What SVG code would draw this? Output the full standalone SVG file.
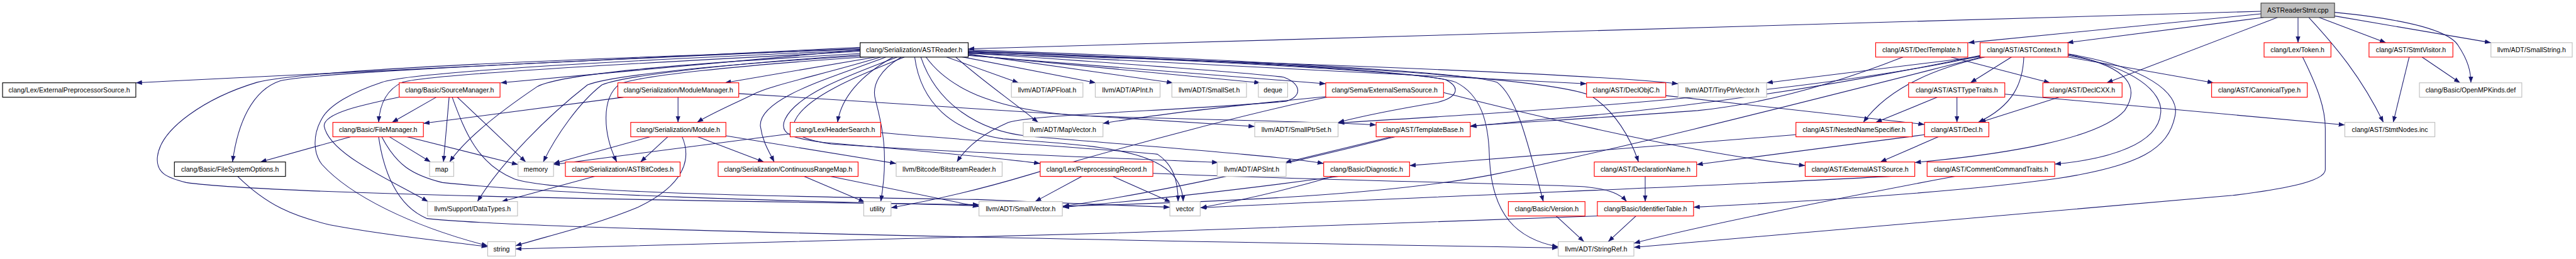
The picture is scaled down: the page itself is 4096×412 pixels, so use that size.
<svg xmlns="http://www.w3.org/2000/svg" width="4096" height="412" viewBox="0 0 4096 412">
<style>
.e{fill:none;stroke:#191970;stroke-width:1.3;marker-end:url(#a)}
.n rect{fill:#fff;stroke-width:1.4}
.r rect{stroke:#ff0000}
.g rect{stroke:#bfbfbf}
.b rect{stroke:#000}
.root rect{fill:#bfbfbf;stroke:#404040}
text{font-family:"Liberation Sans",Arial,sans-serif;font-size:13px;text-anchor:middle;fill:#000}
</style>
<defs>
<marker id="a" markerWidth="12" markerHeight="9" refX="12" refY="4.5" orient="auto" markerUnits="userSpaceOnUse"><path d="M0,0 L12,4.5 L0,9 z" fill="#191970"/></marker>
</defs>
<rect x="0" y="0" width="4096" height="412" fill="#fff"/>
<g transform="scale(0.818)">
<g id="edges">
<path class="e" d="M4395,22 L1882,95"/>
<path class="e" d="M4395,27 L3826,83"/>
<path class="e" d="M4400,34 L4018,83"/>
<path class="e" d="M4427,34 L4095,161"/>
<path class="e" d="M4467,34 L4467,83"/>
<path class="e" d="M4508,34 L4638,83"/>
<path class="e" d="M4488,34 C4540,90 4590,150 4633,238"/>
<path class="e" d="M4538,24 C4680,38 4760,60 4778,88 C4798,118 4803,140 4803,161"/>
<path class="e" d="M4538,31 L4842,83"/>
<path class="e" d="M1672,92 L264,161"/>
<path class="e" d="M1672,94 C1100,120 620,140 545,157 C490,175 462,240 452,315"/>
<path class="e" d="M1672,97 L973,161"/>
<path class="e" d="M1672,100 C1200,125 830,145 782,160 C750,175 738,205 736,238"/>
<path class="e" d="M1676,104 C1300,125 1090,145 1045,168 C990,205 910,262 874,315"/>
<path class="e" d="M1682,106 C1400,125 1210,148 1170,165 C1125,200 1080,265 1056,315"/>
<path class="e" d="M1688,108 C1350,128 1180,150 1142,165 C1065,225 975,315 928,392"/>
<path class="e" d="M1694,110 C1420,128 1245,148 1205,163 C1168,190 1172,260 1199,315"/>
<path class="e" d="M1702,111 L1409,161"/>
<path class="e" d="M1712,111 C1600,145 1500,165 1465,183 C1420,205 1380,222 1355,238"/>
<path class="e" d="M1722,111 C1620,150 1475,190 1478,245 C1482,275 1495,295 1505,315"/>
<path class="e" d="M1736,111 C1685,140 1637,180 1628,238"/>
<path class="e" d="M1752,111 C1712,135 1693,165 1702,195 C1715,245 1728,300 1712,392"/>
<path class="e" d="M1744,111 C1640,150 1548,185 1526,232 C1512,262 1545,270 1600,277 C1750,290 1950,308 2022,318"/>
<path class="e" d="M1758,111 C1660,150 1565,190 1545,235 C1535,262 1565,272 1615,280 C1900,300 2200,308 2368,316"/>
<path class="e" d="M1672,96 C1100,115 600,135 500,160 C400,190 312,250 306,305 C303,335 322,345 362,355 C500,375 1100,388 1903,398"/>
<path class="e" d="M1672,98 C1200,118 800,140 742,160 C682,180 640,205 626,230 C606,265 610,300 626,320 C680,380 800,440 948,478"/>
<path class="e" d="M1882,103 C2100,118 2400,138 2495,150 C2530,162 2532,188 2500,197 C2300,215 2010,222 1960,238 C1905,262 1876,290 1860,315"/>
<path class="e" d="M1840,111 L1980,161"/>
<path class="e" d="M1862,109 L2130,161"/>
<path class="e" d="M1882,105 L2280,161"/>
<path class="e" d="M1882,107 L2450,161"/>
<path class="e" d="M1858,111 C1900,150 1965,195 2018,238"/>
<path class="e" d="M1882,100 C2300,115 2750,140 2810,155 C2840,170 2835,190 2790,200 C2700,215 2640,228 2601,238"/>
<path class="e" d="M1778,111 C1790,200 1850,255 1950,270 C2150,285 2295,290 2300,392"/>
<path class="e" d="M1800,111 C1850,180 1950,215 2100,225 C2400,235 2600,237 2675,243"/>
<path class="e" d="M1790,111 C1820,200 1900,255 2000,265 C2300,290 2500,305 2573,318"/>
<path class="e" d="M1882,97 C2400,115 2850,140 2910,160 C2950,190 2970,280 3000,392"/>
<path class="e" d="M1882,99 C2400,118 2780,140 2830,160 C2880,185 2893,240 2895,300 C2898,420 2950,465 3029,480"/>
<path class="e" d="M1882,108 L2577,163"/>
<path class="e" d="M1882,102 L3084,163"/>
<path class="e" d="M1882,104 C2600,125 3100,145 3262,163"/>
<path class="e" d="M1882,101 C2500,120 3000,150 3090,185 C3140,215 3170,270 3185,315"/>
<path class="e" d="M848,189 L762,238"/>
<path class="e" d="M873,189 L862,315"/>
<path class="e" d="M889,189 L1022,315"/>
<path class="e" d="M776,189 C700,205 630,220 630,245 C640,300 760,350 832,392"/>
<path class="e" d="M879,189 C905,260 930,320 1000,348 C1080,375 1500,382 1900,388 L2274,403"/>
<path class="e" d="M682,266 L506,315"/>
<path class="e" d="M757,266 L837,315"/>
<path class="e" d="M791,266 L1007,320"/>
<path class="e" d="M736,266 C745,330 770,400 830,425 C1000,445 2000,465 3029,482"/>
<path class="e" d="M742,266 C770,320 800,340 860,355 C1100,380 1500,390 1903,400"/>
<path class="e" d="M1212,189 L823,240"/>
<path class="e" d="M1318,189 L1318,238"/>
<path class="e" d="M1436,182 L2439,246"/>
<path class="e" d="M1264,266 L1076,318"/>
<path class="e" d="M1298,266 L1245,315"/>
<path class="e" d="M1356,266 L1485,315"/>
<path class="e" d="M1411,264 L1742,318"/>
<path class="e" d="M1326,266 C1345,310 1330,360 1240,403 C1150,440 1060,460 1002,478"/>
<path class="e" d="M1536,260 L1076,320"/>
<path class="e" d="M1712,258 C1900,275 2150,290 2250,300 C2280,320 2290,350 2290,392"/>
<path class="e" d="M1156,343 L975,392"/>
<path class="e" d="M1563,343 L1681,393"/>
<path class="e" d="M1614,343 L1903,402"/>
<path class="e" d="M2103,343 L2012,392"/>
<path class="e" d="M2163,343 L2276,393"/>
<path class="e" d="M2241,337 C2600,352 3000,358 3080,363 C3130,368 3150,378 3162,392"/>
<path class="e" d="M2577,188 C2400,205 2250,222 2144,240"/>
<path class="e" d="M2580,189 C2450,215 2200,280 2000,340 C1900,370 1800,392 1732,404"/>
<path class="e" d="M2806,180 C3000,230 3300,300 3509,322"/>
<path class="e" d="M2705,266 L2498,316"/>
<path class="e" d="M2712,266 C2500,320 2250,375 2066,401"/>
<path class="e" d="M3491,262 L2740,322"/>
<path class="e" d="M2592,343 C2500,370 2400,392 2334,404"/>
<path class="e" d="M2602,343 C2400,370 2200,392 2066,403"/>
<path class="e" d="M3025,420 L3079,470"/>
<path class="e" d="M3180,420 L3126,470"/>
<path class="e" d="M3107,420 C2500,445 1500,475 1002,484"/>
<path class="e" d="M3198,343 L3198,392"/>
<path class="e" d="M3238,186 L3741,242"/>
<path class="e" d="M3792,111 L3985,161"/>
<path class="e" d="M3699,111 C3600,150 3450,200 3300,215 C3100,230 2950,238 2858,245"/>
<path class="e" d="M3910,111 L3830,161"/>
<path class="e" d="M3934,111 C3932,160 3915,205 3845,238"/>
<path class="e" d="M4020,106 C4140,130 4160,170 4130,215 C4080,270 3900,300 3722,316"/>
<path class="e" d="M4020,108 C4150,130 4205,180 4200,220 C4195,280 4100,310 3994,319"/>
<path class="e" d="M4020,105 C4170,130 4238,180 4228,225 C4215,290 4160,322 4000,347 C3800,375 3500,392 3292,403"/>
<path class="e" d="M4020,111 L4303,161"/>
<path class="e" d="M3849,110 L3434,161"/>
<path class="e" d="M3858,111 C3730,140 3660,185 3622,238"/>
<path class="e" d="M3849,108 C3600,160 3300,210 3000,232 C2950,237 2900,241 2858,246"/>
<path class="e" d="M3849,109 C3500,185 3000,215 2601,239"/>
<path class="e" d="M3852,111 C3500,200 3150,290 2900,340 C2700,378 2400,392 2066,401"/>
<path class="e" d="M3766,189 L3646,238"/>
<path class="e" d="M3804,189 L3804,238"/>
<path class="e" d="M3897,183 L4558,243"/>
<path class="e" d="M3741,262 L3298,320"/>
<path class="e" d="M3768,266 L3655,315"/>
<path class="e" d="M4003,189 L3848,238"/>
<path class="e" d="M3800,343 C3600,380 3300,440 3176,473"/>
<path class="e" d="M3722,340 C3400,360 2700,385 2333,404"/>
<path class="e" d="M4476,111 C4505,170 4520,210 4520,250 L4520,330 C4520,355 4420,370 4340,380 L3176,481"/>
<path class="e" d="M4683,111 L4652,238"/>
<path class="e" d="M4708,111 L4782,161"/>
<path class="e" d="M462,343 C520,400 570,420 640,437 C760,460 880,470 948,480"/>
</g>
<g id="n1" class="n root"><rect x="4395" y="6" width="143" height="28"/><text x="4466.5" y="25">ASTReaderStmt.cpp</text></g>
<g id="n2" class="n b"><rect x="1672" y="83" width="210" height="28"/><text x="1777" y="102">clang/Serialization/ASTReader.h</text></g>
<g id="n3" class="n r"><rect x="3646" y="83" width="179" height="28"/><text x="3735.5" y="102">clang/AST/DeclTemplate.h</text></g>
<g id="n4" class="n r"><rect x="3849" y="83" width="171" height="28"/><text x="3934.5" y="102">clang/AST/ASTContext.h</text></g>
<g id="n5" class="n r"><rect x="4401" y="83" width="130" height="28"/><text x="4466" y="102">clang/Lex/Token.h</text></g>
<g id="n6" class="n r"><rect x="4605" y="83" width="163" height="28"/><text x="4686.5" y="102">clang/AST/StmtVisitor.h</text></g>
<g id="n7" class="n g"><rect x="4842" y="83" width="158" height="28"/><text x="4921" y="102">llvm/ADT/SmallString.h</text></g>
<g id="n8" class="n b"><rect x="5" y="161" width="259" height="28"/><text x="134.5" y="180">clang/Lex/ExternalPreprocessorSource.h</text></g>
<g id="n9" class="n r"><rect x="776" y="161" width="196" height="28"/><text x="874" y="180">clang/Basic/SourceManager.h</text></g>
<g id="n10" class="n r"><rect x="1201" y="161" width="235" height="28"/><text x="1318.5" y="180">clang/Serialization/ModuleManager.h</text></g>
<g id="n11" class="n g"><rect x="1966" y="161" width="139" height="28"/><text x="2035.5" y="180">llvm/ADT/APFloat.h</text></g>
<g id="n12" class="n g"><rect x="2129" y="161" width="126" height="28"/><text x="2192" y="180">llvm/ADT/APInt.h</text></g>
<g id="n13" class="n g"><rect x="2278" y="161" width="145" height="28"/><text x="2350.5" y="180">llvm/ADT/SmallSet.h</text></g>
<g id="n14" class="n g"><rect x="2446" y="161" width="57" height="28"/><text x="2474.5" y="180">deque</text></g>
<g id="n15" class="n r"><rect x="2577" y="161" width="229" height="28"/><text x="2691.5" y="180">clang/Sema/ExternalSemaSource.h</text></g>
<g id="n16" class="n r"><rect x="3084" y="161" width="154" height="28"/><text x="3161" y="180">clang/AST/DeclObjC.h</text></g>
<g id="n17" class="n g"><rect x="3262" y="161" width="172" height="28"/><text x="3348" y="180">llvm/ADT/TinyPtrVector.h</text></g>
<g id="n18" class="n r"><rect x="3710" y="161" width="187" height="28"/><text x="3803.5" y="180">clang/AST/ASTTypeTraits.h</text></g>
<g id="n19" class="n r"><rect x="3971" y="161" width="154" height="28"/><text x="4048" y="180">clang/AST/DeclCXX.h</text></g>
<g id="n20" class="n r"><rect x="4299" y="161" width="186" height="28"/><text x="4392" y="180">clang/AST/CanonicalType.h</text></g>
<g id="n21" class="n g"><rect x="4703" y="161" width="199" height="28"/><text x="4802.5" y="180">clang/Basic/OpenMPKinds.def</text></g>
<g id="n22" class="n r"><rect x="647" y="238" width="176" height="28"/><text x="735" y="257">clang/Basic/FileManager.h</text></g>
<g id="n23" class="n r"><rect x="1226" y="238" width="185" height="28"/><text x="1318.5" y="257">clang/Serialization/Module.h</text></g>
<g id="n24" class="n r"><rect x="1536" y="238" width="176" height="28"/><text x="1624" y="257">clang/Lex/HeaderSearch.h</text></g>
<g id="n25" class="n g"><rect x="1989" y="238" width="155" height="28"/><text x="2066.5" y="257">llvm/ADT/MapVector.h</text></g>
<g id="n26" class="n g"><rect x="2439" y="238" width="162" height="28"/><text x="2520" y="257">llvm/ADT/SmallPtrSet.h</text></g>
<g id="n27" class="n r"><rect x="2675" y="238" width="183" height="28"/><text x="2766.5" y="257">clang/AST/TemplateBase.h</text></g>
<g id="n28" class="n r"><rect x="3491" y="238" width="226" height="28"/><text x="3604" y="257">clang/AST/NestedNameSpecifier.h</text></g>
<g id="n29" class="n r"><rect x="3741" y="238" width="125" height="28"/><text x="3803.5" y="257">clang/AST/Decl.h</text></g>
<g id="n30" class="n g"><rect x="4558" y="238" width="175" height="28"/><text x="4645.5" y="257">clang/AST/StmtNodes.inc</text></g>
<g id="n31" class="n b"><rect x="339" y="315" width="216" height="28"/><text x="447" y="334">clang/Basic/FileSystemOptions.h</text></g>
<g id="n32" class="n g"><rect x="835" y="315" width="47" height="28"/><text x="858.5" y="334">map</text></g>
<g id="n33" class="n g"><rect x="1007" y="315" width="69" height="28"/><text x="1041.5" y="334">memory</text></g>
<g id="n34" class="n r"><rect x="1099" y="315" width="223" height="28"/><text x="1210.5" y="334">clang/Serialization/ASTBitCodes.h</text></g>
<g id="n35" class="n r"><rect x="1396" y="315" width="272" height="28"/><text x="1532" y="334">clang/Serialization/ContinuousRangeMap.h</text></g>
<g id="n36" class="n g"><rect x="1742" y="315" width="206" height="28"/><text x="1845" y="334">llvm/Bitcode/BitstreamReader.h</text></g>
<g id="n37" class="n r"><rect x="2022" y="315" width="219" height="28"/><text x="2131.5" y="334">clang/Lex/PreprocessingRecord.h</text></g>
<g id="n38" class="n g"><rect x="2366" y="315" width="134" height="28"/><text x="2433" y="334">llvm/ADT/APSInt.h</text></g>
<g id="n39" class="n r"><rect x="2573" y="315" width="167" height="28"/><text x="2656.5" y="334">clang/Basic/Diagnostic.h</text></g>
<g id="n40" class="n r"><rect x="3099" y="315" width="199" height="28"/><text x="3198.5" y="334">clang/AST/DeclarationName.h</text></g>
<g id="n41" class="n r"><rect x="3509" y="315" width="213" height="28"/><text x="3615.5" y="334">clang/AST/ExternalASTSource.h</text></g>
<g id="n42" class="n r"><rect x="3746" y="315" width="248" height="28"/><text x="3870" y="334">clang/AST/CommentCommandTraits.h</text></g>
<g id="n43" class="n g"><rect x="831" y="392" width="175" height="28"/><text x="918.5" y="411">llvm/Support/DataTypes.h</text></g>
<g id="n44" class="n g"><rect x="1679" y="392" width="53" height="28"/><text x="1705.5" y="411">utility</text></g>
<g id="n45" class="n g"><rect x="1903" y="392" width="162" height="28"/><text x="1984" y="411">llvm/ADT/SmallVector.h</text></g>
<g id="n46" class="n g"><rect x="2274" y="392" width="59" height="28"/><text x="2303.5" y="411">vector</text></g>
<g id="n47" class="n r"><rect x="2932" y="392" width="149" height="28"/><text x="3006.5" y="411">clang/Basic/Version.h</text></g>
<g id="n48" class="n r"><rect x="3105" y="392" width="187" height="28"/><text x="3198.5" y="411">clang/Basic/IdentifierTable.h</text></g>
<g id="n49" class="n g"><rect x="948" y="470" width="54" height="28"/><text x="975" y="489">string</text></g>
<g id="n50" class="n g"><rect x="3029" y="470" width="147" height="28"/><text x="3102.5" y="489">llvm/ADT/StringRef.h</text></g>
</g>
</svg>
